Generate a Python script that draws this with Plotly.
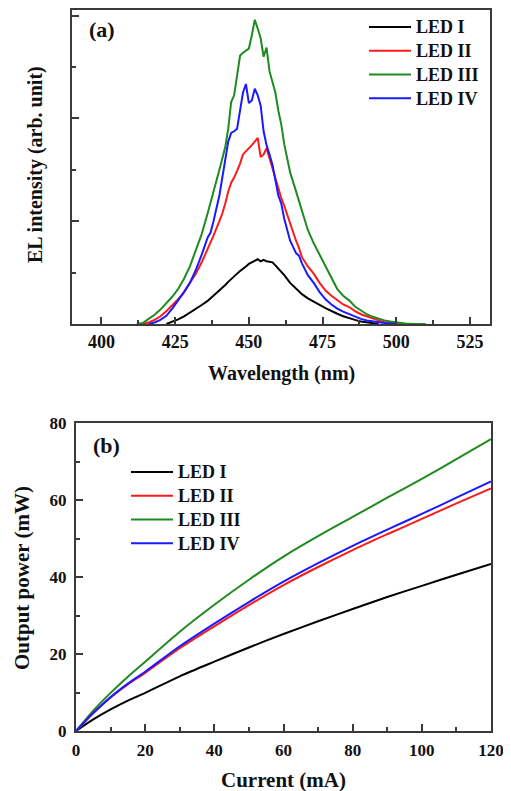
import plotly.graph_objects as go

# ---------- panel (a): EL spectra ----------
wavelength = [412, 414, 416, 418, 420, 422, 424, 426, 428, 430, 432, 434, 436, 437, 438, 440, 441, 442, 443,
              444, 445, 446, 447, 448, 449, 450, 451, 452, 453, 454, 455, 456, 457, 458, 459, 460, 461, 462,
              464, 466, 467, 468, 470, 472, 474, 476, 478, 480, 482, 484, 486, 488, 490, 492, 494, 496, 498,
              500, 503, 506, 510]

el_led1 = [None, None, None, None, None, 0.00, 0.04, 0.09, 0.15, 0.22, 0.30, 0.37, 0.45, 0.50, 0.55, 0.65, 0.70,
           0.76, 0.82, 0.88, 0.92, 0.98, 1.03, 1.07, 1.12, 1.17, 1.20, 1.23, 1.26, 1.22, 1.25, 1.22, 1.21, 1.20,
           1.14, 1.08, 1.01, 0.95, 0.80, 0.68, 0.63, 0.58, 0.50, 0.43, 0.37, 0.31, 0.25, 0.20, 0.15, 0.11, 0.08,
           0.05, 0.03, 0.01, 0.00, None, None, None, None, None, None]

el_led2 = [None, 0.00, 0.03, 0.08, 0.15, 0.25, 0.36, 0.48, 0.62, 0.80, 0.98, 1.20, 1.45, 1.58, 1.72, 2.00, 2.15,
           2.35, 2.58, 2.75, 2.85, 2.98, 3.12, 3.30, 3.36, 3.40, 3.48, 3.55, 3.62, 3.25, 3.30, 3.42, 3.22, 3.05,
           2.85, 2.62, 2.45, 2.30, 1.95, 1.62, 1.48, 1.30, 1.12, 0.98, 0.80, 0.65, 0.55, 0.46, 0.38, 0.33, 0.25,
           0.19, 0.15, 0.10, 0.07, 0.04, 0.02, 0.01, 0.00, None, None]

el_led3 = [0.00, 0.02, 0.10, 0.18, 0.28, 0.40, 0.53, 0.68, 0.88, 1.12, 1.42, 1.75, 2.15, 2.35, 2.55, 3.00, 3.22,
           3.45, 3.80, 4.32, 4.45, 4.88, 5.22, 5.28, 5.32, 5.36, 5.62, 5.92, 5.75, 5.56, 5.20, 5.38, 4.92, 4.70,
           4.50, 4.15, 3.88, 3.50, 2.95, 2.58, 2.40, 2.20, 1.83, 1.57, 1.35, 1.15, 0.92, 0.68, 0.55, 0.46, 0.34,
           0.26, 0.19, 0.14, 0.10, 0.07, 0.05, 0.03, 0.01, 0.00, 0.00]

el_led4 = [None, None, 0.00, 0.03, 0.08, 0.16, 0.30, 0.45, 0.62, 0.80, 1.05, 1.35, 1.68, 1.78, 2.00, 2.50, 2.85,
           3.15, 3.55, 3.72, 3.75, 3.80, 4.12, 4.50, 4.67, 4.30, 4.35, 4.58, 4.45, 4.25, 3.75, 3.48, 3.30, 3.10,
           2.80, 2.50, 2.34, 2.05, 1.62, 1.38, 1.33, 1.18, 0.95, 0.80, 0.62, 0.48, 0.38, 0.30, 0.24, 0.19, 0.14,
           0.10, 0.07, 0.05, 0.03, 0.02, 0.01, 0.00, None, None, None]

# ---------- panel (b): L-I curves ----------
current = [0, 5, 10, 15, 20, 30, 40, 50, 60, 70, 80, 90, 100, 110, 120]
power_led1 = [0, 3.0, 5.6, 7.9, 9.9, 14.2, 18.0, 21.7, 25.2, 28.5, 31.7, 34.8, 37.7, 40.6, 43.4]
power_led2 = [0, 4.6, 8.7, 12.1, 15.1, 21.5, 27.2, 32.7, 37.9, 42.6, 47.0, 51.1, 55.1, 59.1, 63.0]
power_led3 = [0, 5.3, 9.9, 14.1, 18.0, 25.8, 32.8, 39.3, 45.3, 50.6, 55.6, 60.6, 65.5, 70.6, 75.8]
power_led4 = [0, 4.7, 8.8, 12.3, 15.4, 22.0, 27.9, 33.5, 38.8, 43.6, 48.1, 52.3, 56.4, 60.6, 64.8]

names = ["LED I", "LED II", "LED III", "LED IV"]
colors = ["#000000", "#ff1a1a", "#1f8a1f", "#1a1aff"]

FONT = "Liberation Serif"
W, H = 511, 791
PAGE_OFF = 8  # the page body margin shifts the figure by 8px

fig = go.Figure()

def legend_label(n):
    # legend rows are spaced for a 16px font, text itself drawn at 18px
    return '<span style="font-size:18px">' + n + '</span>'

for name, col, ys in zip(names, colors, [el_led1, el_led2, el_led3, el_led4]):
    fig.add_trace(go.Scatter(x=wavelength, y=ys, mode="lines", name=legend_label(name),
                             line=dict(color=col, width=2), xaxis="x", yaxis="y",
                             legend="legend", connectgaps=False))

for name, col, ys in zip(names, colors, [power_led1, power_led2, power_led3, power_led4]):
    fig.add_trace(go.Scatter(x=current, y=ys, mode="lines", name=legend_label(name),
                             line=dict(color=col, width=2, shape="spline", smoothing=0.8),
                             xaxis="x2", yaxis="y2", legend="legend2"))

TICKC = "#3a3a3a"
axis_common = dict(showline=True, linecolor=TICKC, linewidth=2, mirror=True,
                   ticks="inside", ticklen=7, tickwidth=1.5, tickcolor=TICKC,
                   showgrid=False, zeroline=False, automargin=False,
                   tickfont=dict(family=FONT, size=18, color="#111", weight="bold"))

def px_x(p):
    return min(max((p - PAGE_OFF) / W, 0.0), 1.0)

def px_y(p):
    return min(max(1 - (p - PAGE_OFF) / H, 0.0), 1.0)

legend_common = dict(xanchor="left", yanchor="top", bgcolor="rgba(0,0,0,0)", borderwidth=0,
                     itemwidth=42, font=dict(family=FONT, size=16, color="#111", weight="bold"),
                     tracegroupgap=0, itemclick=False, itemdoubleclick=False)

fig.update_layout(
    template="none",
    width=W, height=H,
    margin=dict(l=0, r=0, t=0, b=0, autoexpand=False),
    paper_bgcolor="white", plot_bgcolor="white",
    showlegend=True,
    xaxis=dict(axis_common, domain=[px_x(72), px_x(490)], range=[390, 531.8],
               tickvals=[400, 425, 450, 475, 500, 525], anchor="y",
               minor=dict(ticks="inside", ticklen=4, tickwidth=1.5, tickcolor=TICKC, dtick=12.5, tick0=400),
               ticklabelstandoff=0),
    yaxis=dict(axis_common, domain=[px_y(324), px_y(9.5)], range=[0, 6.12],
               tickvals=[0, 2, 4, 6], showticklabels=False, anchor="x",
               minor=dict(ticks="inside", ticklen=4, tickwidth=1.5, tickcolor=TICKC, dtick=1, tick0=0)),
    xaxis2=dict(axis_common, domain=[px_x(76), px_x(491)], range=[0, 120],
                tickvals=[0, 20, 40, 60, 80, 100, 120], anchor="y2",
                minor=dict(ticks="inside", ticklen=4, tickwidth=1.5, tickcolor=TICKC, dtick=10, tick0=0),
                tickfont=dict(family=FONT, size=17, color="#111", weight="bold"),
                ticklabelstandoff=3),
    yaxis2=dict(axis_common, domain=[px_y(731), px_y(423)], range=[0, 80],
                tickvals=[0, 20, 40, 60, 80], anchor="x2",
                minor=dict(ticks="inside", ticklen=4, tickwidth=1.5, tickcolor=TICKC, dtick=10, tick0=0),
                tickfont=dict(family=FONT, size=17, color="#111", weight="bold"),
                ticklabelstandoff=4),
    legend=dict(legend_common, x=px_x(364), y=px_y(10)),
    legend2=dict(legend_common, x=px_x(126), y=px_y(455)),
)

ann_font = dict(family=FONT, color="#111", weight="bold")
annotations = [
    dict(text="(a)", x=px_x(87), y=px_y(30), xanchor="left", yanchor="middle",
         font=dict(ann_font, size=22)),
    dict(text="(b)", x=px_x(91), y=px_y(445), xanchor="left", yanchor="middle",
         font=dict(ann_font, size=22)),
    dict(text="Wavelength (nm)", x=px_x(281), y=px_y(373), xanchor="center", yanchor="middle",
         font=dict(ann_font, size=20)),
    dict(text="EL intensity (arb. unit)", x=px_x(35), y=px_y(165), xanchor="center", yanchor="middle",
         textangle=-90, font=dict(ann_font, size=20)),
    dict(text="Current (mA)", x=px_x(283), y=px_y(780), xanchor="center", yanchor="middle",
         font=dict(ann_font, size=21)),
    dict(text="Output power (mW)", x=px_x(22), y=px_y(578), xanchor="center", yanchor="middle",
         textangle=-90, font=dict(ann_font, size=21)),
]
for a in annotations:
    a.update(xref="paper", yref="paper", showarrow=False)
fig.update_layout(annotations=annotations)

fig.write_html("out.html")
